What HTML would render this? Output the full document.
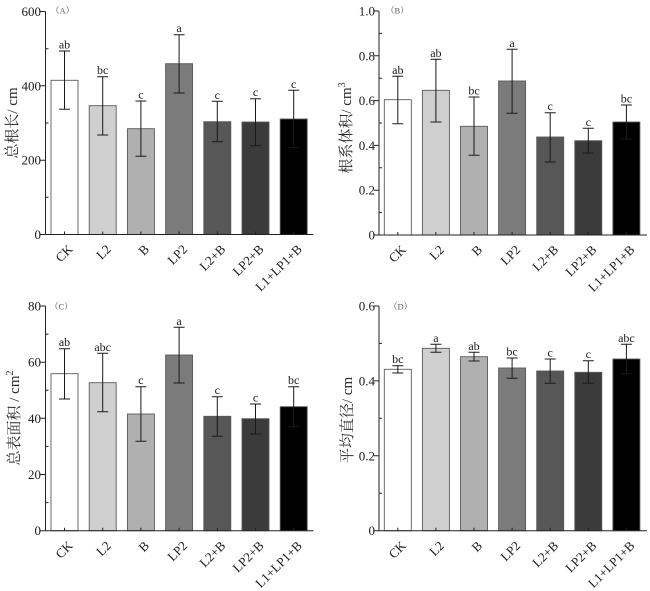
<!DOCTYPE html>
<html><head><meta charset="utf-8"><style>
html,body{margin:0;padding:0;background:#fff;}
svg{display:block;}
.lb{font-family:"Liberation Serif",serif;font-size:12px;fill:#1a1a1a;text-anchor:middle;}
.xl{font-family:"Liberation Serif",serif;font-size:13px;fill:#1a1a1a;text-anchor:end;}
.yt{font-family:"Liberation Serif",serif;font-size:13px;fill:#1a1a1a;text-anchor:end;}
.ti{font-family:"Liberation Serif","Noto Serif CJK SC",serif;font-size:15px;fill:#2a2a2a;text-anchor:middle;dominant-baseline:central;}
.pl{font-family:"Liberation Serif","Noto Serif CJK SC",serif;font-size:8.5px;fill:#555;}
.bar{stroke:#5a5a5a;stroke-width:0.9;}
.ax{stroke:#222;stroke-width:1;fill:none;}
.eb{stroke:#1a1a1a;stroke-width:1;fill:none;}
</style></head><body>
<svg width="650" height="591" viewBox="0 0 650 591" xmlns="http://www.w3.org/2000/svg">

<!-- ===== Panel A ===== -->
<g>
<rect class="bar" x="51" y="80.3" width="27" height="154.2" fill="#ffffff"/>
<rect class="bar" x="89.2" y="105.7" width="27" height="128.8" fill="#cfcfcf"/>
<rect class="bar" x="127.4" y="128.7" width="27" height="105.8" fill="#b0b0b0"/>
<rect class="bar" x="165.6" y="63.7" width="27" height="170.8" fill="#7b7b7b"/>
<rect class="bar" x="203.8" y="121.7" width="27" height="112.8" fill="#575757"/>
<rect class="bar" x="242" y="122" width="27" height="112.5" fill="#3b3b3b"/>
<rect class="bar" x="280.2" y="119" width="27" height="115.5" fill="#000000"/>
<path class="eb" d="M59 51H70M64.5 51V109.3M59 109.3H70
M97.2 76.7H108.2M102.7 76.7V135M97.2 135H108.2
M135.4 101H146.4M140.9 101V156.3M135.4 156.3H146.4
M173.6 34.7H184.6M179.1 34.7V93M173.6 93H184.6
M211.8 101.3H222.8M217.3 101.3V141.7M211.8 141.7H222.8
M250 98.7H261M255.5 98.7V145.7M250 145.7H261
M288.2 90.3H299.2M293.7 90.3V147.7M288.2 147.7H299.2"/>
<text class="lb" x="64.5" y="48.5">ab</text>
<text class="lb" x="102.7" y="74.2">bc</text>
<text class="lb" x="140.9" y="98.5">c</text>
<text class="lb" x="179.1" y="32.2">a</text>
<text class="lb" x="217.3" y="98.8">c</text>
<text class="lb" x="255.5" y="96.2">c</text>
<text class="lb" x="293.7" y="87.8">c</text>
<path class="ax" d="M45.5 11.5V234.5H313.5"/>
<path class="ax" d="M40.5 11.5H45.5M40.5 85.8H45.5M40.5 160.2H45.5M40.5 234.5H45.5
M45.5 48.7H48.5M45.5 123H48.5M45.5 197.3H48.5
M64.5 234.5V231.5M102.7 234.5V231.5M140.9 234.5V231.5M179.1 234.5V231.5M217.3 234.5V231.5M255.5 234.5V231.5M293.7 234.5V231.5"/>
<text class="yt" x="41" y="16">600</text>
<text class="yt" x="41" y="90.3">400</text>
<text class="yt" x="41" y="164.7">200</text>
<text class="yt" x="41" y="239">0</text>
<text class="pl" x="51" y="13.5">（A）</text>
<text class="ti" transform="translate(13,123) rotate(-90)">总根长/ cm</text>
<text class="xl" transform="translate(73.5,250) rotate(-45)">CK</text>
<text class="xl" transform="translate(111.7,250) rotate(-45)">L2</text>
<text class="xl" transform="translate(149.9,250) rotate(-45)">B</text>
<text class="xl" transform="translate(188.1,250) rotate(-45)">LP2</text>
<text class="xl" transform="translate(226.3,250) rotate(-45)">L2+B</text>
<text class="xl" transform="translate(264.5,250) rotate(-45)">LP2+B</text>
<text class="xl" transform="translate(302.7,250) rotate(-45)">L1+LP1+B</text>
</g>

<!-- ===== Panel B ===== -->
<g>
<rect class="bar" x="384.3" y="99.7" width="27" height="135.3" fill="#ffffff"/>
<rect class="bar" x="422.4" y="90.3" width="27" height="144.7" fill="#cfcfcf"/>
<rect class="bar" x="460.5" y="126.3" width="27" height="108.7" fill="#b0b0b0"/>
<rect class="bar" x="498.6" y="81" width="27" height="154" fill="#7b7b7b"/>
<rect class="bar" x="536.7" y="137" width="27" height="98" fill="#575757"/>
<rect class="bar" x="574.8" y="140.7" width="27" height="94.3" fill="#3b3b3b"/>
<rect class="bar" x="612.9" y="122" width="27" height="113" fill="#000000"/>
<path class="eb" d="M392.3 76.3H403.3M397.8 76.3V123.7M392.3 123.7H403.3
M430.4 59.3H441.4M435.9 59.3V122M430.4 122H441.4
M468.5 97H479.5M474 97V155.3M468.5 155.3H479.5
M506.6 49.3H517.6M512.1 49.3V113.3M506.6 113.3H517.6
M544.7 112.7H555.7M550.2 112.7V162M544.7 162H555.7
M582.8 128.3H593.8M588.3 128.3V153M582.8 153H593.8
M620.9 105H631.9M626.4 105V139M620.9 139H631.9"/>
<text class="lb" x="397.8" y="73.8">ab</text>
<text class="lb" x="435.9" y="56.8">ab</text>
<text class="lb" x="474" y="94.5">bc</text>
<text class="lb" x="512.1" y="46.8">a</text>
<text class="lb" x="550.2" y="110.2">c</text>
<text class="lb" x="588.3" y="125.8">c</text>
<text class="lb" x="626.4" y="102.5">bc</text>
<path class="ax" d="M379 11V235H647"/>
<path class="ax" d="M374 11H379M374 55.8H379M374 100.6H379M374 145.4H379M374 190.2H379M374 235H379
M379 33.4H382M379 78.2H382M379 123H382M379 167.8H382M379 212.6H382
M397.8 235V232M435.9 235V232M474 235V232M512.1 235V232M550.2 235V232M588.3 235V232M626.4 235V232"/>
<text class="yt" x="375" y="15.5">1.0</text>
<text class="yt" x="375" y="60.3">0.8</text>
<text class="yt" x="375" y="105.1">0.6</text>
<text class="yt" x="375" y="149.9">0.4</text>
<text class="yt" x="375" y="194.7">0.2</text>
<text class="yt" x="375" y="239.5">0</text>
<text class="pl" x="386" y="13.5">（B）</text>
<text class="ti" transform="translate(347,128) rotate(-90)">根系体积/ cm<tspan dy="-5" font-size="10">3</tspan></text>
<text class="xl" transform="translate(406.8,250.5) rotate(-45)">CK</text>
<text class="xl" transform="translate(444.9,250.5) rotate(-45)">L2</text>
<text class="xl" transform="translate(483,250.5) rotate(-45)">B</text>
<text class="xl" transform="translate(521.1,250.5) rotate(-45)">LP2</text>
<text class="xl" transform="translate(559.2,250.5) rotate(-45)">L2+B</text>
<text class="xl" transform="translate(597.3,250.5) rotate(-45)">LP2+B</text>
<text class="xl" transform="translate(635.4,250.5) rotate(-45)">L1+LP1+B</text>
</g>

<!-- ===== Panel C ===== -->
<g>
<rect class="bar" x="51" y="373.7" width="27" height="157" fill="#ffffff"/>
<rect class="bar" x="89.2" y="382.7" width="27" height="148" fill="#cfcfcf"/>
<rect class="bar" x="127.4" y="414" width="27" height="116.7" fill="#b0b0b0"/>
<rect class="bar" x="165.6" y="355" width="27" height="175.7" fill="#7b7b7b"/>
<rect class="bar" x="203.8" y="416.3" width="27" height="114.4" fill="#575757"/>
<rect class="bar" x="242" y="418.7" width="27" height="112" fill="#3b3b3b"/>
<rect class="bar" x="280.2" y="406.7" width="27" height="124" fill="#000000"/>
<path class="eb" d="M59 348.7H70M64.5 348.7V399M59 399H70
M97.2 353.3H108.2M102.7 353.3V411.7M97.2 411.7H108.2
M135.4 386.7H146.4M140.9 386.7V441.3M135.4 441.3H146.4
M173.6 327.3H184.6M179.1 327.3V383M173.6 383H184.6
M211.8 396.7H222.8M217.3 396.7V436.3M211.8 436.3H222.8
M250 404H261M255.5 404V434M250 434H261
M288.2 386.7H299.2M293.7 386.7V426.7M288.2 426.7H299.2"/>
<text class="lb" x="64.5" y="346.2">ab</text>
<text class="lb" x="102.7" y="350.8">abc</text>
<text class="lb" x="140.9" y="384.2">c</text>
<text class="lb" x="179.1" y="324.8">a</text>
<text class="lb" x="217.3" y="394.2">c</text>
<text class="lb" x="255.5" y="401.5">c</text>
<text class="lb" x="293.7" y="384.2">bc</text>
<path class="ax" d="M45.5 306V530.7H313.5"/>
<path class="ax" d="M40.5 306H45.5M40.5 362.2H45.5M40.5 418.3H45.5M40.5 474.5H45.5M40.5 530.7H45.5
M45.5 334.1H48.5M45.5 390.3H48.5M45.5 446.4H48.5M45.5 502.6H48.5
M64.5 530.7V527.7M102.7 530.7V527.7M140.9 530.7V527.7M179.1 530.7V527.7M217.3 530.7V527.7M255.5 530.7V527.7M293.7 530.7V527.7"/>
<text class="yt" x="41" y="310.5">80</text>
<text class="yt" x="41" y="366.7">60</text>
<text class="yt" x="41" y="422.8">40</text>
<text class="yt" x="41" y="479">20</text>
<text class="yt" x="41" y="535.2">0</text>
<text class="pl" x="50" y="309.5">（C）</text>
<text class="ti" transform="translate(15,418) rotate(-90)">总表面积 / cm<tspan dy="-5" font-size="10">2</tspan></text>
<text class="xl" transform="translate(73.5,546.5) rotate(-45)">CK</text>
<text class="xl" transform="translate(111.7,546.5) rotate(-45)">L2</text>
<text class="xl" transform="translate(149.9,546.5) rotate(-45)">B</text>
<text class="xl" transform="translate(188.1,546.5) rotate(-45)">LP2</text>
<text class="xl" transform="translate(226.3,546.5) rotate(-45)">L2+B</text>
<text class="xl" transform="translate(264.5,546.5) rotate(-45)">LP2+B</text>
<text class="xl" transform="translate(302.7,546.5) rotate(-45)">L1+LP1+B</text>
</g>

<!-- ===== Panel D ===== -->
<g>
<rect class="bar" x="384.3" y="369.3" width="27" height="161.4" fill="#ffffff"/>
<rect class="bar" x="422.4" y="348.3" width="27" height="182.4" fill="#cfcfcf"/>
<rect class="bar" x="460.5" y="356.7" width="27" height="174" fill="#b0b0b0"/>
<rect class="bar" x="498.6" y="368" width="27" height="162.7" fill="#7b7b7b"/>
<rect class="bar" x="536.7" y="371" width="27" height="159.7" fill="#575757"/>
<rect class="bar" x="574.8" y="372.3" width="27" height="158.4" fill="#3b3b3b"/>
<rect class="bar" x="612.9" y="359" width="27" height="171.7" fill="#000000"/>
<path class="eb" d="M392.3 365.7H403.3M397.8 365.7V373M392.3 373H403.3
M430.4 344.3H441.4M435.9 344.3V352.3M430.4 352.3H441.4
M468.5 352.3H479.5M474 352.3V361M468.5 361H479.5
M506.6 358H517.6M512.1 358V378.3M506.6 378.3H517.6
M544.7 359H555.7M550.2 359V383.3M544.7 383.3H555.7
M582.8 360.7H593.8M588.3 360.7V383.3M582.8 383.3H593.8
M620.9 344.3H631.9M626.4 344.3V373.7M620.9 373.7H631.9"/>
<text class="lb" x="397.8" y="363.2">bc</text>
<text class="lb" x="435.9" y="341.8">a</text>
<text class="lb" x="474" y="349.8">ab</text>
<text class="lb" x="512.1" y="355.5">bc</text>
<text class="lb" x="550.2" y="356.5">c</text>
<text class="lb" x="588.3" y="358.2">c</text>
<text class="lb" x="626.4" y="341.8">abc</text>
<path class="ax" d="M379 306V530.7H647"/>
<path class="ax" d="M374 306H379M374 380.9H379M374 455.8H379M374 530.7H379
M379 343.4H382M379 418.3H382M379 493.2H382
M397.8 530.7V527.7M435.9 530.7V527.7M474 530.7V527.7M512.1 530.7V527.7M550.2 530.7V527.7M588.3 530.7V527.7M626.4 530.7V527.7"/>
<text class="yt" x="375" y="310.5">0.6</text>
<text class="yt" x="375" y="385.4">0.4</text>
<text class="yt" x="375" y="460.3">0.2</text>
<text class="yt" x="375" y="535.2">0</text>
<text class="pl" x="389" y="309.5">（D）</text>
<text class="ti" transform="translate(348,420) rotate(-90)">平均直径/ cm</text>
<text class="xl" transform="translate(406.8,546.5) rotate(-45)">CK</text>
<text class="xl" transform="translate(444.9,546.5) rotate(-45)">L2</text>
<text class="xl" transform="translate(483,546.5) rotate(-45)">B</text>
<text class="xl" transform="translate(521.1,546.5) rotate(-45)">LP2</text>
<text class="xl" transform="translate(559.2,546.5) rotate(-45)">L2+B</text>
<text class="xl" transform="translate(597.3,546.5) rotate(-45)">LP2+B</text>
<text class="xl" transform="translate(635.4,546.5) rotate(-45)">L1+LP1+B</text>
</g>
</svg>
</body></html>
